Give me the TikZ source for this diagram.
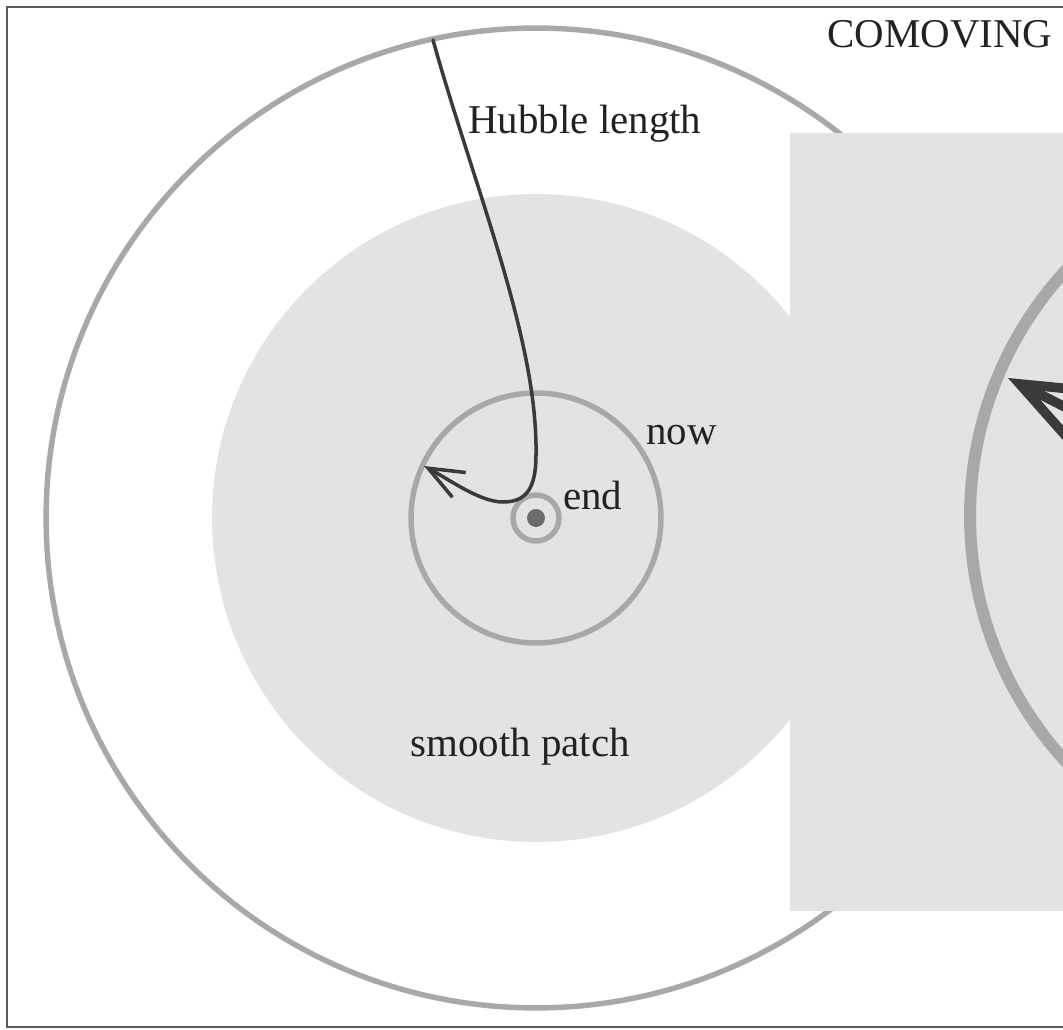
\documentclass[tikz,border=0pt]{standalone}
\usepackage{fontspec}
\setmainfont{Liberation Serif}
\usetikzlibrary{arrows.meta}
\definecolor{ringgray}{HTML}{A8A8A8}
\definecolor{patchgray}{HTML}{E3E3E3}
\definecolor{darkline}{HTML}{3A3A3A}
\definecolor{dotgray}{HTML}{6B6B6B}
\definecolor{framegray}{HTML}{5A5A5A}
\definecolor{txt}{HTML}{222222}
\tikzset{
  ringline/.style={draw=ringgray, line width=3.1pt},
  hubble/.style={draw=darkline, line width=2pt, line cap=round,
    -{Straight Barb[length=20pt,width=16pt]}},
  bighubble/.style={draw=darkline, line width=5.5pt,
    -{Straight Barb[length=56pt,width=44pt]}},
  lbl/.style={text=txt, inner sep=0pt, anchor=base west,
    font=\fontsize{23.3}{27}\selectfont},
  framelin/.style={draw=framegray, line width=1.2pt}
}
\begin{document}
\begin{tikzpicture}[x=0.02cm, y=-0.02cm]
\useasboundingbox (0,0) rectangle (1063,1030);
\fill[white] (0,0) rectangle (1063,1030);
% left panel
\coordinate (C) at (536,518);
\fill[patchgray] (C) circle[radius=6.48cm];
\draw[ringline] (C) circle[radius=9.8cm];
\draw[ringline] (C) circle[radius=2.5cm];
\draw[ringline] (C) circle[radius=0.46cm];
\fill[dotgray] (C) circle[radius=0.18cm];
\coordinate (hstart) at (433,40);
\coordinate (hmid) at (536,455);
\coordinate (hlow) at (503,502);
\coordinate (htip) at (424,466);
\draw[hubble] (hstart) .. controls (475,190) and (538,340) .. (hmid)
  .. controls (536,490) and (525,502) .. (hlow)
  .. controls (480,502) and (450,480) .. (htip);
\node[lbl] (hl) at (468,134) {Hubble length};
\node[lbl] (now) at (646,445) {now};
\node[lbl] (end) at (563,510) {end};
\node[lbl] (sp) at (410,757) {smooth patch};
% right panel
\fill[patchgray] (790,133) rectangle (1063,911);
\begin{scope}
\clip (790,133) rectangle (1063,911);
\coordinate (C2) at (1333,516);
\draw[draw=ringgray, line width=6.8pt] (C2) circle[radius=7.26cm];
\coordinate (rstart) at (1275,514);
\coordinate (rtip) at (1008,378);
\draw[bighubble] (rstart) -- (rtip);
\end{scope}
\node[lbl] (com) at (827,48) {COMOVING};
% frame
\draw[framelin] (1063,7) -- (7,7) -- (7,1027) -- (1063,1027);
\end{tikzpicture}
\end{document}
